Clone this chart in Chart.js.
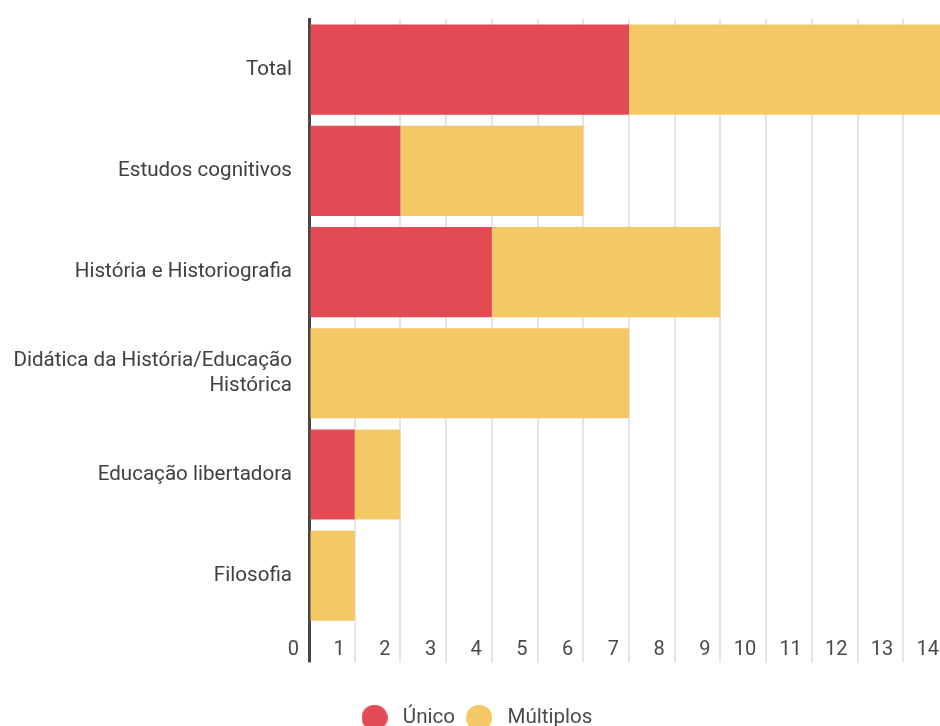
<!DOCTYPE html>
<html>
<head>
<meta charset="utf-8">
<script src="https://cdn.jsdelivr.net/npm/chart.js@4.4.0/dist/chart.umd.min.js"></script>
<style>
    html, body { margin: 0; padding: 0; background: #fff; overflow: hidden; }
    #wrap { width: 960px; height: 738px; }
</style>
</head>
<body>
<div id="wrap"><canvas id="myBarChart" width="960" height="738"></canvas></div>
<script>
// Categorias e valores
var categories = [
    'Total',
    'Estudos cognitivos',
    'História e Historiografia',
    ['Didática da História/Educação', 'Histórica'],
    'Educação libertadora',
    'Filosofia'
];
var seriesNames = ['Único', 'Múltiplos'];
var unico = [7, 2, 4, 0, 1, 0];
var multiplos = [7, 4, 5, 7, 1, 1];
var xTicks = [0, 1, 2, 3, 4, 5, 6, 7, 8, 9, 10, 11, 12, 13, 14];

var colors = ['#e44a53', '#f4c864'];

// bolinhas da legenda
function dot(color) {
    var c = document.createElement('canvas');
    c.width = 26;
    c.height = 26;
    var g = c.getContext('2d');
    g.fillStyle = color;
    g.beginPath();
    g.arc(13, 13, 13, 0, Math.PI * 2);
    g.fill();
    return c;
}
var dots = [dot(colors[0]), dot(colors[1])];

Chart.defaults.font.family = 'Roboto';
Chart.defaults.font.size = 20;

var ctx = document.getElementById('myBarChart').getContext('2d');
var myBarChart = new Chart(ctx, {
    type: 'bar',
    data: {
        labels: categories,
        datasets: [{
            label: seriesNames[0],
            data: unico,
            backgroundColor: colors[0],
            borderWidth: 0,
            categoryPercentage: 1,
            barPercentage: 0.89
        }, {
            label: seriesNames[1],
            data: multiplos,
            backgroundColor: colors[1],
            borderWidth: 0,
            categoryPercentage: 1,
            barPercentage: 0.89
        }]
    },
    options: {
        indexAxis: 'y',
        responsive: false,
        animation: false,
        layout: { padding: { top: 19, right: 11, left: 0, bottom: 0 } },
        scales: {
            x: {
                stacked: true,
                min: xTicks[0],
                max: xTicks[xTicks.length - 1],
                afterBuildTicks: function (scale) {
                    scale.ticks = xTicks.map(function (v) { return { value: v }; });
                },
                afterFit: function (scale) {
                    scale.height = 75;
                    scale.paddingLeft = 0;
                    scale.paddingRight = 0;
                },
                border: { display: false },
                grid: {
                    color: function (c) { return c.tick && c.tick.value === 0 ? '#474747' : '#e4e4e4'; },
                    lineWidth: function (c) { return c.tick && c.tick.value === 0 ? 3 : 2; },
                    tickColor: function (c) { return c.tick && c.tick.value === 0 ? '#474747' : '#e4e4e4'; },
                    tickLength: 36
                },
                ticks: {
                    color: '#4a4a4a',
                    align: 'end',
                    labelOffset: -10,
                    padding: -24,
                    autoSkip: false,
                    maxRotation: 0
                }
            },
            y: {
                stacked: true,
                z: 1,
                afterFit: function (scale) {
                    scale.width = 309;
                    scale.paddingTop = 0;
                    scale.paddingBottom = 0;
                },
                grid: { display: false },
                border: { color: '#474747', width: 3 },
                ticks: { color: '#404040', padding: 9, font: { size: 20.6 } }
            }
        },
        plugins: {
            tooltip: { enabled: false },
            legend: {
                position: 'bottom',
                labels: {
                    color: '#4a4a4a',
                    usePointStyle: true,
                    pointStyleWidth: 36,
                    padding: 6,
                    font: { size: 20.6 },
                    generateLabels: function (chart) {
                        var items = Chart.defaults.plugins.legend.labels.generateLabels(chart);
                        items.forEach(function (item, i) { item.pointStyle = dots[i]; });
                        return items;
                    }
                }
            }
        }
    }
});
</script>
</body>
</html>
